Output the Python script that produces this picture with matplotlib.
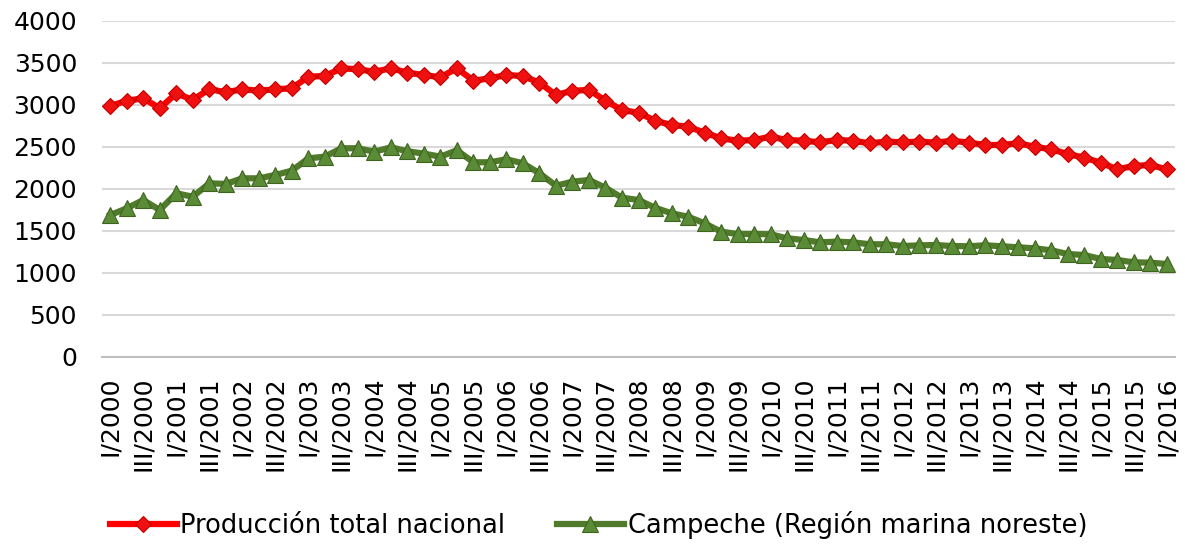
import matplotlib
matplotlib.use("Agg")
import matplotlib.pyplot as plt

# Quarterly data, I/2000 .. I/2016 (65 quarters)
years = list(range(2000, 2017))
quarters = [f"{q}/{y}" for y in years for q in ["I", "II", "III", "IV"]][:65]

produccion_nacional = [
    2988, 3051, 3080, 2961, 3139, 3060, 3190, 3151, 3187, 3170, 3187, 3199,
    3337, 3345, 3437, 3425, 3396, 3437, 3385, 3357, 3330, 3437, 3289, 3318,
    3357, 3345, 3266, 3119, 3170, 3179, 3051, 2940, 2908, 2813, 2762, 2742,
    2671, 2603, 2575, 2583, 2623, 2583, 2575, 2556, 2583, 2575, 2544, 2564,
    2556, 2564, 2552, 2575, 2552, 2524, 2524, 2544, 2504, 2472, 2417, 2373,
    2313, 2234, 2274, 2286, 2234,
]

campeche = [
    1690, 1770, 1869, 1750, 1949, 1908, 2068, 2060, 2127, 2127, 2167, 2218,
    2365, 2385, 2485, 2485, 2444, 2496, 2449, 2421, 2385, 2461, 2318, 2318,
    2354, 2306, 2187, 2039, 2087, 2107, 2015, 1896, 1869, 1777, 1711, 1670,
    1592, 1492, 1464, 1464, 1461, 1413, 1393, 1365, 1373, 1365, 1342, 1342,
    1321, 1329, 1333, 1321, 1318, 1330, 1318, 1306, 1294, 1270, 1226, 1214,
    1167, 1155, 1127, 1123, 1107,
]

plt.rcParams['font.family'] = ['DejaVu Sans']

fig = plt.figure(figsize=(11.85, 5.46), dpi=100)
ax = fig.add_axes([102 / 1185, 1 - 357 / 546, (1175 - 102) / 1185, (357 - 21) / 546])

x = list(range(len(quarters)))
ax.plot(x, produccion_nacional, color='#ff0000', linewidth=4.5,
        marker='D', markersize=8, markerfacecolor='#f01010',
        markeredgecolor='#c00000', markeredgewidth=0.8,
        label='Producción total nacional', zorder=3)
ax.plot(x, campeche, color='#4f7b2b', linewidth=4.5,
        marker='^', markersize=12, markerfacecolor='#5a8b36',
        markeredgecolor='#3f6420', markeredgewidth=0.8,
        label='Campeche (Región marina noreste)', zorder=3)

ax.set_xlim(-0.5, len(quarters) - 0.5)
ax.set_ylim(0, 4000)
ax.set_yticks(range(0, 4001, 500))
ax.set_xticks(x[::2])
ax.set_xticklabels(quarters[::2], rotation=90)

ax.grid(axis='y', color='#d9d9d9', linewidth=1.5)
ax.set_axisbelow(True)
for s in ['top', 'right', 'left']:
    ax.spines[s].set_visible(False)
ax.spines['bottom'].set_color('#bfbfbf')
ax.spines['bottom'].set_linewidth(1.5)
ax.tick_params(axis='y', length=0, pad=18, labelsize=18)
ax.tick_params(axis='x', length=0, pad=14, labelsize=18)

fig.legend(loc='lower center', bbox_to_anchor=(0.505, -0.03), ncol=2,
           frameon=False, fontsize=18.5, handlelength=2.6,
           columnspacing=2.0, handletextpad=0.15)

fig.savefig('out.png', dpi=100)
